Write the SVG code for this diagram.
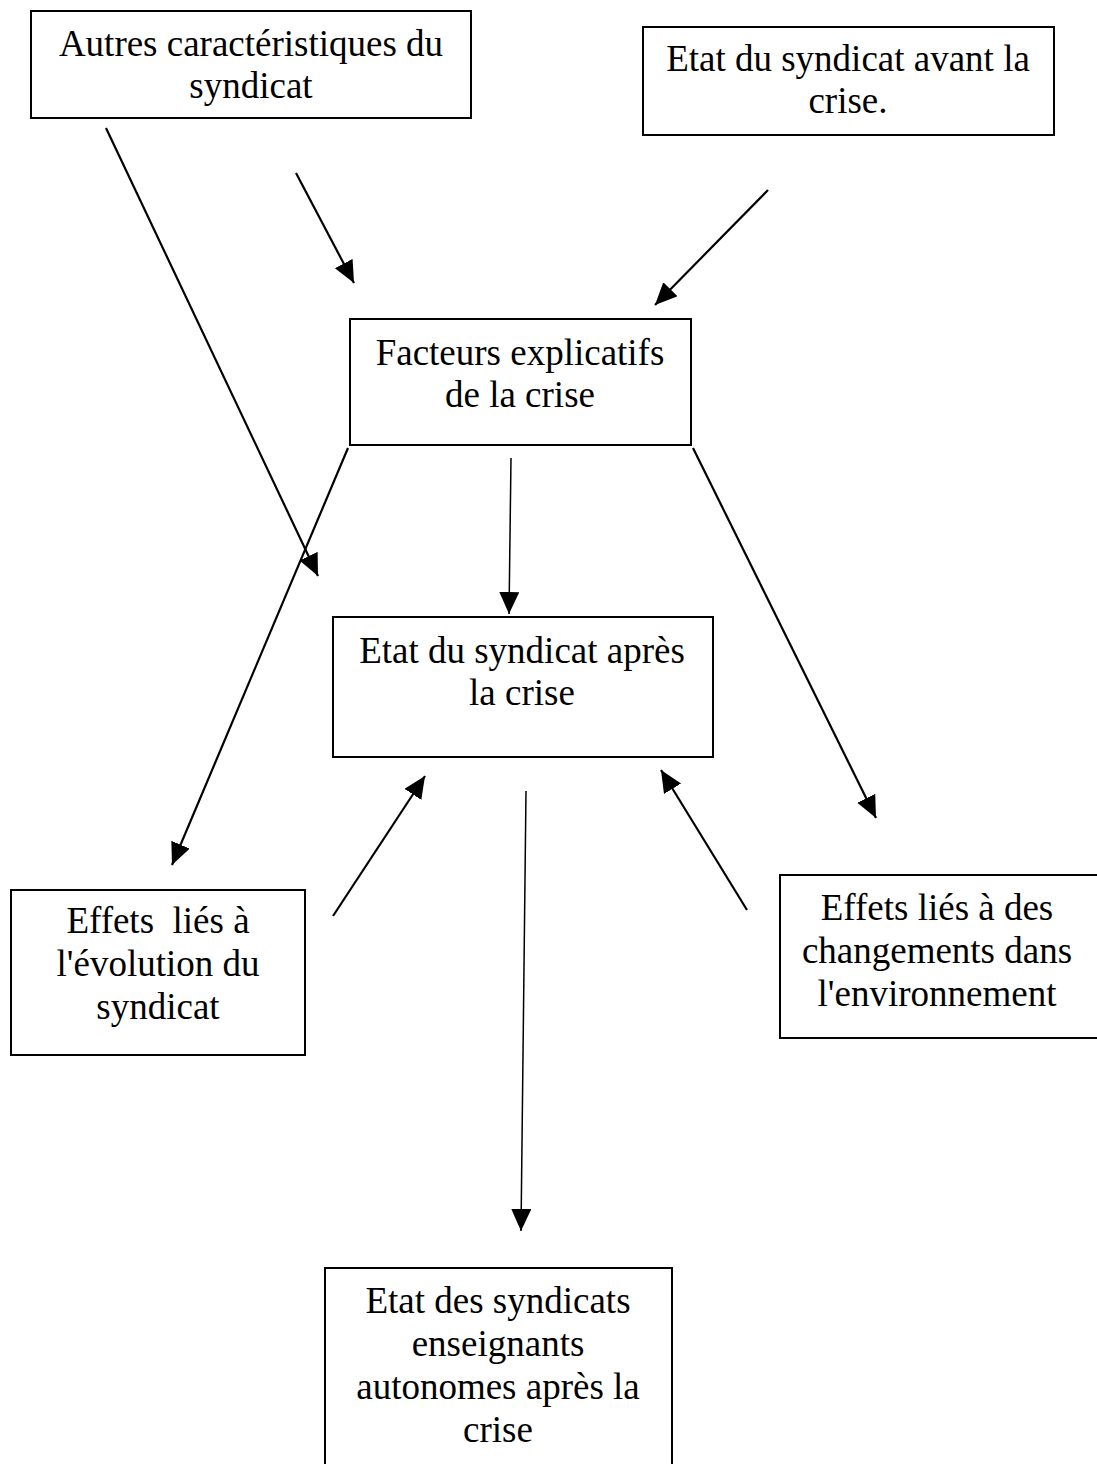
<svg xmlns="http://www.w3.org/2000/svg" width="1097" height="1464" viewBox="0 0 1097 1464">
<style>
.box{fill:#fff;stroke:#000;stroke-width:2}
.t{font-family:"Liberation Serif","Times New Roman",serif;font-size:37px;fill:#000;text-anchor:middle;white-space:pre}
.c{stroke:#000;stroke-width:2.2;fill:none;marker-end:url(#ah)}
.thin{stroke-width:1.5}
</style>
<defs>
<marker id="ah" markerUnits="userSpaceOnUse" markerWidth="24" markerHeight="22" refX="22" refY="10" orient="auto" viewBox="0 0 24 22">
<path d="M0,0 L22,10 L0,20 Z" fill="#000"/>
</marker>
</defs>
<rect width="1097" height="1464" fill="#fff"/>
<g id="connectors">
<line class="c" x1="106" y1="128" x2="318" y2="576"/>
<line class="c" x1="296" y1="173" x2="354" y2="283"/>
<line class="c" x1="768" y1="190" x2="655" y2="305"/>
<line class="c thin" x1="511" y1="458" x2="509" y2="614"/>
<line class="c" x1="348" y1="448" x2="172" y2="865"/>
<line class="c" x1="693" y1="448" x2="876" y2="818"/>
<line class="c" x1="333" y1="916" x2="425" y2="776"/>
<line class="c" x1="747" y1="910" x2="661" y2="770"/>
<line class="c thin" x1="526" y1="791" x2="521" y2="1231"/>
</g>
<g id="n1">
<rect class="box" x="31" y="11" width="440" height="107"/>
<text class="t" x="251" y="56">Autres caractéristiques du</text>
<text class="t" x="251" y="98">syndicat</text>
</g>
<g id="n2">
<rect class="box" x="643" y="27" width="411" height="108"/>
<text class="t" x="848" y="71">Etat du syndicat avant la</text>
<text class="t" x="848" y="113">crise.</text>
</g>
<g id="n3">
<rect class="box" x="350" y="319" width="341" height="126"/>
<text class="t" x="520" y="365">Facteurs explicatifs</text>
<text class="t" x="520" y="407">de la crise</text>
</g>
<g id="n4">
<rect class="box" x="333" y="617" width="380" height="140"/>
<text class="t" x="522" y="663">Etat du syndicat après</text>
<text class="t" x="522" y="705">la crise</text>
</g>
<g id="n5">
<rect class="box" x="11" y="890" width="294" height="165"/>
<text class="t" x="158" y="933">Effets  liés à</text>
<text class="t" x="158" y="976">l'évolution du</text>
<text class="t" x="158" y="1019">syndicat</text>
</g>
<g id="n6">
<rect class="box" x="780" y="875" width="318" height="163"/>
<text class="t" x="937" y="920">Effets liés à des</text>
<text class="t" x="937" y="963">changements dans</text>
<text class="t" x="937" y="1006">l'environnement</text>
</g>
<g id="n7">
<rect class="box" x="325" y="1268" width="347" height="210"/>
<text class="t" x="498" y="1313">Etat des syndicats</text>
<text class="t" x="498" y="1356">enseignants</text>
<text class="t" x="498" y="1399">autonomes après la</text>
<text class="t" x="498" y="1442">crise</text>
</g>
</svg>
